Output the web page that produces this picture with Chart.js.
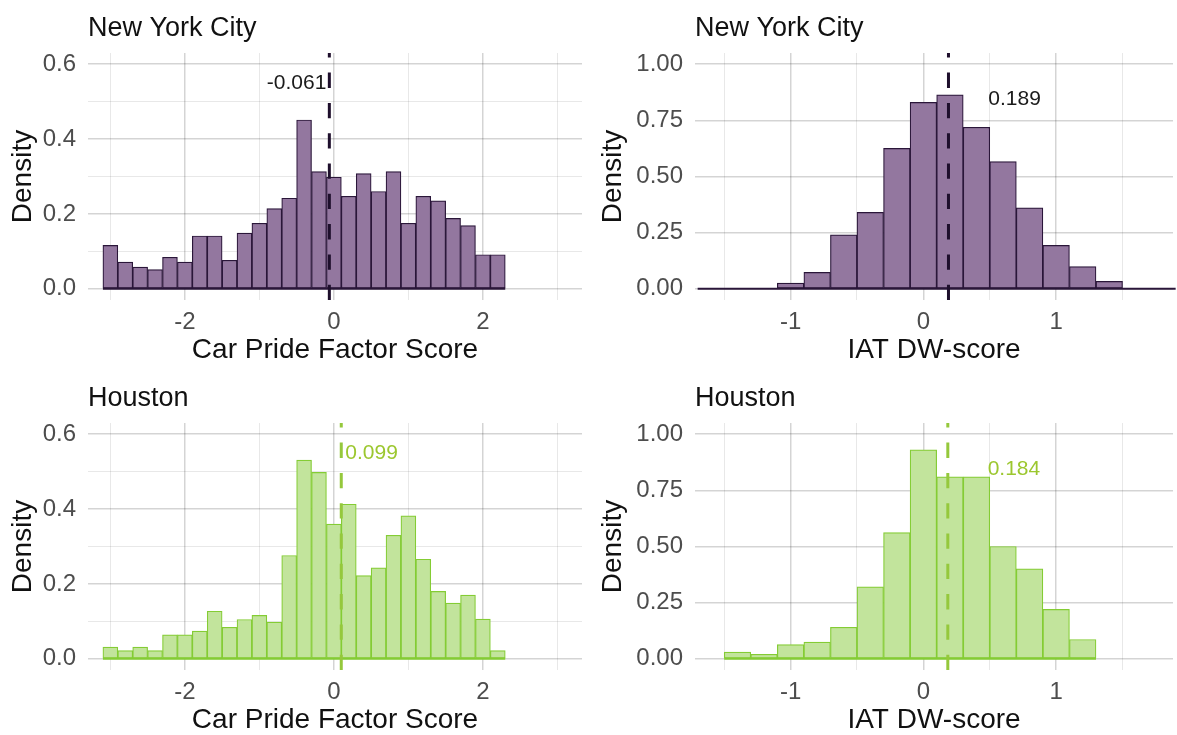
<!DOCTYPE html>
<html>
<head>
<meta charset="utf-8">
<script src="https://cdn.jsdelivr.net/npm/chart.js@4.4.1/dist/chart.umd.min.js"></script>
<style>
  html, body { margin: 0; padding: 0; background: #fff; overflow: hidden; }
  canvas { position: absolute; }
</style>
</head>
<body>
<canvas id="nycCar" width="590" height="370" style="left:0;top:0"></canvas>
<canvas id="nycIat" width="587" height="370" style="left:590px;top:0"></canvas>
<canvas id="houCar" width="590" height="370" style="left:0;top:370px"></canvas>
<canvas id="houIat" width="587" height="370" style="left:590px;top:370px"></canvas>
<script>
// histogram bin centres (width 0.2)
const carBins = [-3.0, -2.8, -2.6, -2.4, -2.2, -2.0, -1.8, -1.6, -1.4, -1.2, -1.0, -0.8, -0.6, -0.4,
                 -0.2, 0.0, 0.2, 0.4, 0.6, 0.8, 1.0, 1.2, 1.4, 1.6, 1.8, 2.0, 2.2];
const nycCarDensity = [0.116, 0.071, 0.058, 0.051, 0.084, 0.071, 0.141, 0.141, 0.076, 0.149, 0.175, 0.214, 0.242, 0.451,
                       0.313, 0.298, 0.247, 0.308, 0.260, 0.313, 0.175, 0.247, 0.235, 0.188, 0.169, 0.091, 0.091];
const houCarDensity = [0.031, 0.022, 0.031, 0.022, 0.064, 0.064, 0.074, 0.127, 0.084, 0.105, 0.116, 0.098, 0.276, 0.531,
                       0.498, 0.360, 0.413, 0.222, 0.243, 0.330, 0.382, 0.266, 0.180, 0.149, 0.170, 0.106, 0.022];

const nycIatBins = [-1.6, -1.4, -1.2, -1.0, -0.8, -0.6, -0.4, -0.2, 0.0, 0.2, 0.4, 0.6, 0.8, 1.0, 1.2, 1.4, 1.6, 1.8];
const nycIatDensity = [0, 0, 0, 0.025, 0.073, 0.240, 0.340, 0.625, 0.830, 0.864, 0.719, 0.566, 0.360, 0.193, 0.099, 0.033, 0, 0];
const houIatBins = [-1.4, -1.2, -1.0, -0.8, -0.6, -0.4, -0.2, 0.0, 0.2, 0.4, 0.6, 0.8, 1.0, 1.2];
const houIatDensity = [0.030, 0.020, 0.063, 0.074, 0.140, 0.320, 0.562, 0.930, 0.810, 0.810, 0.500, 0.400, 0.220, 0.086];

const cities = ['New York City', 'Houston'];
const carMeans = [-0.061, 0.099];
const iatMeans = [0.189, 0.184];

const FONT = '"Liberation Sans", Arial, sans-serif';
const purple = { fill: '#93779f', border: '#2a1639', line: '#1e0f2c', text: '#1a1a1a' };
const green = { fill: '#c2e49c', border: '#84cc34', line: '#95c83c', text: '#9cc72f' };

// baseline, dashed mean line, mean label and panel title
const panelExtras = {
    id: 'panelExtras',
    afterDatasetsDraw(chart, args, opts) {
        const { ctx, chartArea: { top, bottom, left }, scales: { x, y } } = chart;
        const pts = chart.data.datasets[0].data;
        const w = pts[1].x - pts[0].x;
        ctx.save();
        ctx.strokeStyle = opts.colors.border;
        ctx.lineWidth = 2;
        ctx.beginPath();
        ctx.moveTo(x.getPixelForValue(pts[0].x - w / 2), y.getPixelForValue(0));
        ctx.lineTo(x.getPixelForValue(pts[pts.length - 1].x + w / 2), y.getPixelForValue(0));
        ctx.stroke();

        const mx = x.getPixelForValue(opts.mean);
        ctx.setLineDash([15.3, 15]);
        ctx.lineWidth = 3;
        ctx.strokeStyle = opts.colors.line;
        ctx.beginPath();
        ctx.moveTo(mx, bottom);
        ctx.lineTo(mx, top);
        ctx.stroke();
        ctx.setLineDash([]);

        ctx.font = '21px ' + FONT;
        ctx.fillStyle = opts.colors.text;
        ctx.textAlign = opts.align;
        ctx.textBaseline = 'middle';
        ctx.fillText(opts.mean.toFixed(3), x.getPixelForValue(opts.mean + opts.dx) + opts.dpx, y.getPixelForValue(opts.labelY));

        ctx.font = '27px ' + FONT;
        ctx.fillStyle = '#111';
        ctx.textAlign = 'left';
        ctx.fillText(opts.title, left, 29);
        ctx.restore();
    }
};

function isMajor(v, step) {
    const r = v / step;
    return Math.abs(r - Math.round(r)) < 1e-6;
}

function gridColor(step) {
    return c => isMajor(c.tick.value, step) ? 'rgba(0,0,0,0.17)' : 'rgba(0,0,0,0.09)';
}
function gridWidth(step) {
    return c => isMajor(c.tick.value, step) ? 1.5 : 1;
}

function makeChart(id, bins, density, colors, o) {
    return new Chart(document.getElementById(id), {
        type: 'bar',
        data: {
            datasets: [{
                data: bins.map((b, i) => ({ x: b, y: density[i] })),
                backgroundColor: colors.fill,
                borderColor: colors.border,
                borderWidth: 1.2,
                borderSkipped: false,
                barPercentage: 1.0,
                categoryPercentage: 1.0
            }]
        },
        options: {
            responsive: false,
            animation: false,
            devicePixelRatio: 1,
            layout: { padding: { top: 53, right: o.rightPad, left: 0, bottom: 0 } },
            plugins: {
                legend: { display: false },
                tooltip: { enabled: false },
                panelExtras: { colors: colors, mean: o.mean, dx: o.dx, dpx: o.dpx, align: o.align, labelY: o.labelY, title: o.title }
            },
            scales: {
                x: {
                    type: 'linear',
                    min: o.xMin, max: o.xMax,
                    offset: false,
                    border: { display: false },
                    grid: { offset: false, drawTicks: false, color: gridColor(o.xMajor), lineWidth: gridWidth(o.xMajor) },
                    ticks: {
                        stepSize: o.xStep, includeBounds: false, autoSkip: false, maxRotation: 0,
                        padding: 8, color: '#4d4d4d', font: { family: FONT, size: 24 },
                        callback: v => isMajor(v, o.xMajor) ? String(Math.round(v)) : ''
                    },
                    title: { display: true, text: o.xTitle, color: '#111', font: { family: FONT, size: 28 }, padding: { top: 0, bottom: 3 } },
                    afterFit: s => { s.height = 70; }
                },
                y: {
                    min: o.yMin, max: o.yMax,
                    border: { display: false },
                    grid: { drawTicks: false, color: gridColor(o.yMajor), lineWidth: gridWidth(o.yMajor) },
                    ticks: {
                        stepSize: o.yStep, includeBounds: false, padding: 12, color: '#4d4d4d',
                        font: { family: FONT, size: 24 },
                        callback: v => isMajor(v, o.yMajor) ? v.toFixed(o.yDigits) : ''
                    },
                    title: { display: true, text: 'Density', color: '#111', font: { family: FONT, size: 28 }, padding: { top: 6, bottom: 0 } },
                    afterFit: s => { s.width = o.yWidth; }
                }
            }
        },
        plugins: [panelExtras]
    });
}

const carOpts = {
    xMin: -3.3, xMax: 3.33, xStep: 1, xMajor: 2,
    yMin: -0.03, yMax: 0.63, yStep: 0.1, yMajor: 0.2, yDigits: 1,
    xTitle: 'Car Pride Factor Score', yWidth: 88, rightPad: 8, labelY: 0.549
};
const iatOpts = {
    xMin: -1.72, xMax: 1.88, xStep: 0.5, xMajor: 1,
    yMin: -0.05, yMax: 1.05, yStep: 0.125, yMajor: 0.25, yDigits: 2,
    xTitle: 'IAT DW-score', yWidth: 105, rightPad: 4, labelY: 0.844
};

makeChart('nycCar', carBins, nycCarDensity, purple,
    Object.assign({}, carOpts, { title: cities[0], mean: carMeans[0], dx: 0, dpx: -3, align: 'right' }));
makeChart('houCar', carBins, houCarDensity, green,
    Object.assign({}, carOpts, { title: cities[1], mean: carMeans[1], dx: 0, dpx: 4, align: 'left' }));
makeChart('nycIat', nycIatBins, nycIatDensity, purple,
    Object.assign({}, iatOpts, { title: cities[0], mean: iatMeans[0], dx: 0.3, dpx: 0, align: 'left' }));
makeChart('houIat', houIatBins, houIatDensity, green,
    Object.assign({}, iatOpts, { title: cities[1], mean: iatMeans[1], dx: 0.3, dpx: 0, align: 'left' }));
</script>
</body>
</html>
